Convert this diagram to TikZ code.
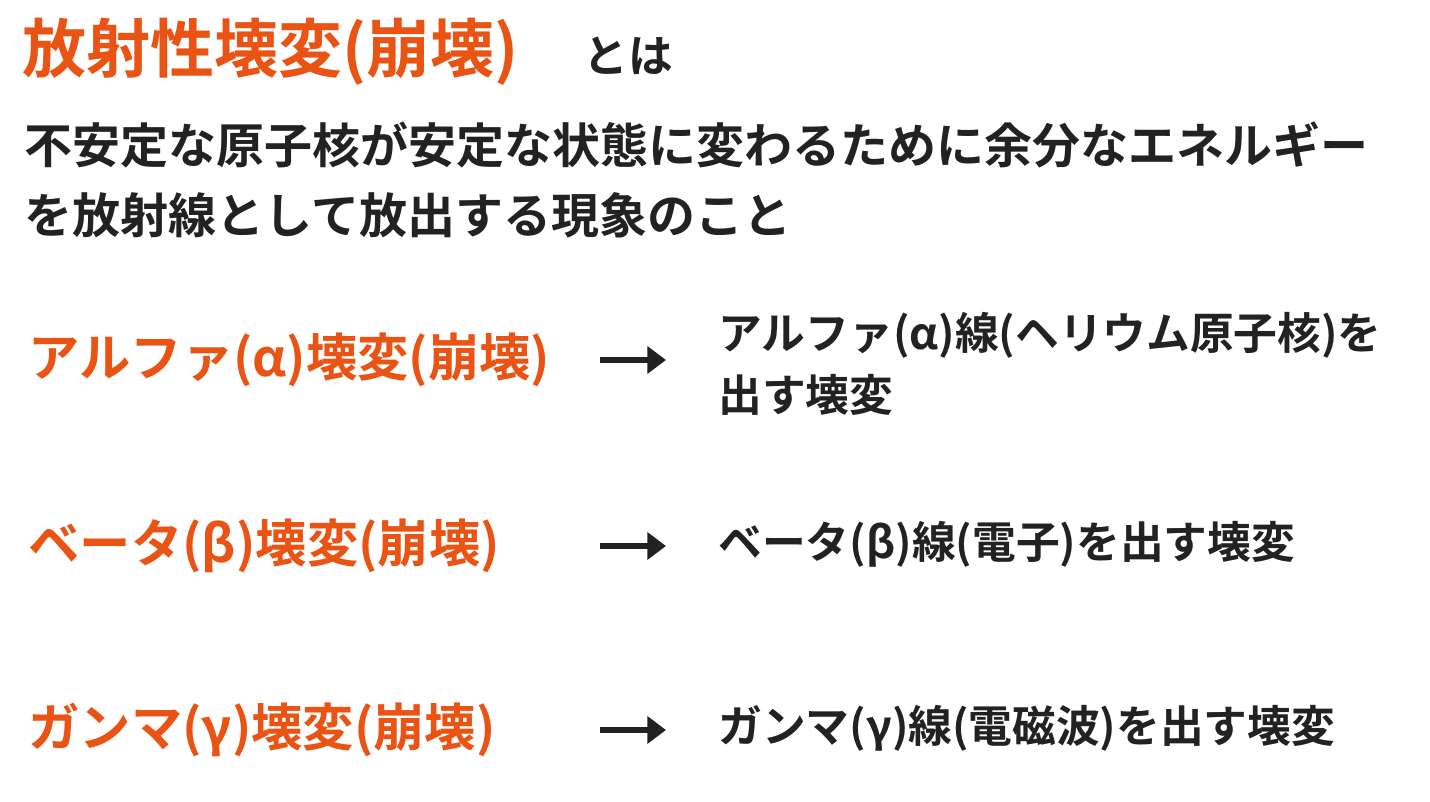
\documentclass[tikz,border=0pt]{standalone}
\usepackage{fontspec}
\newfontfamily\jpb{Noto Sans CJK JP Bold}
\usetikzlibrary{arrows.meta}
\definecolor{decayorange}{RGB}{233,83,20}
\definecolor{inkgray}{RGB}{34,34,34}
\tikzset{every picture/.style={line width=0.75pt}}
\tikzset{
  titletext/.style={anchor=west,inner sep=0pt,font=\jpb\fontsize{48}{56}\selectfont,text=decayorange},
  bodytext/.style={anchor=west,inner sep=0pt,font=\jpb\fontsize{36}{44}\selectfont,text=inkgray},
  decaytext/.style={anchor=west,inner sep=0pt,font=\jpb\fontsize{38.5}{44}\selectfont,text=decayorange},
  desctext/.style={anchor=west,inner sep=0pt,align=left,font=\jpb\fontsize{32.8}{46}\selectfont,text=inkgray},
  pointer/.style={line width=4.5pt,inkgray,-{Triangle[length=14pt,width=20pt]}}
}
\begin{document}
\begin{tikzpicture}[x=0.75pt,y=0.75pt,yscale=-1,xscale=1]
\useasboundingbox (0,0) rectangle (1430,802);

% Title
\node[titletext] (title) at (22,52) {放射性壊変(崩壊)};
\node[bodytext,font=\jpb\fontsize{33.5}{40}\selectfont] (towa) at (583,56) {とは};
% Definition
\node[bodytext] (def1) at (24,145) {不安定な原子核が安定な状態に変わるために余分なエネルギー};
\node[bodytext] (def2) at (24,215) {を放射線として放出する現象のこと};

% Alpha
\node[decaytext] (alpha) at (28,360) {アルファ(α)壊変(崩壊)};
\coordinate (a1) at (600,360);
\coordinate (a2) at (666,360);
\draw[pointer] (a1) -- (a2);
\node[desctext] (alphadesc) at (718,364) {アルファ(α)線(ヘリウム原子核)を\\出す壊変};

% Beta
\node[decaytext] (beta) at (28,546) {ベータ(β)壊変(崩壊)};
\coordinate (b1) at (600,546);
\coordinate (b2) at (666,546);
\draw[pointer] (b1) -- (b2);
\node[desctext] (betadesc) at (718,544) {ベータ(β)線(電子)を出す壊変};

% Gamma
\node[decaytext] (gamma) at (28,730) {ガンマ(γ)壊変(崩壊)};
\coordinate (g1) at (600,730);
\coordinate (g2) at (666,730);
\draw[pointer] (g1) -- (g2);
\node[desctext] (gammadesc) at (718,728) {ガンマ(γ)線(電磁波)を出す壊変};
\end{tikzpicture}
\end{document}
